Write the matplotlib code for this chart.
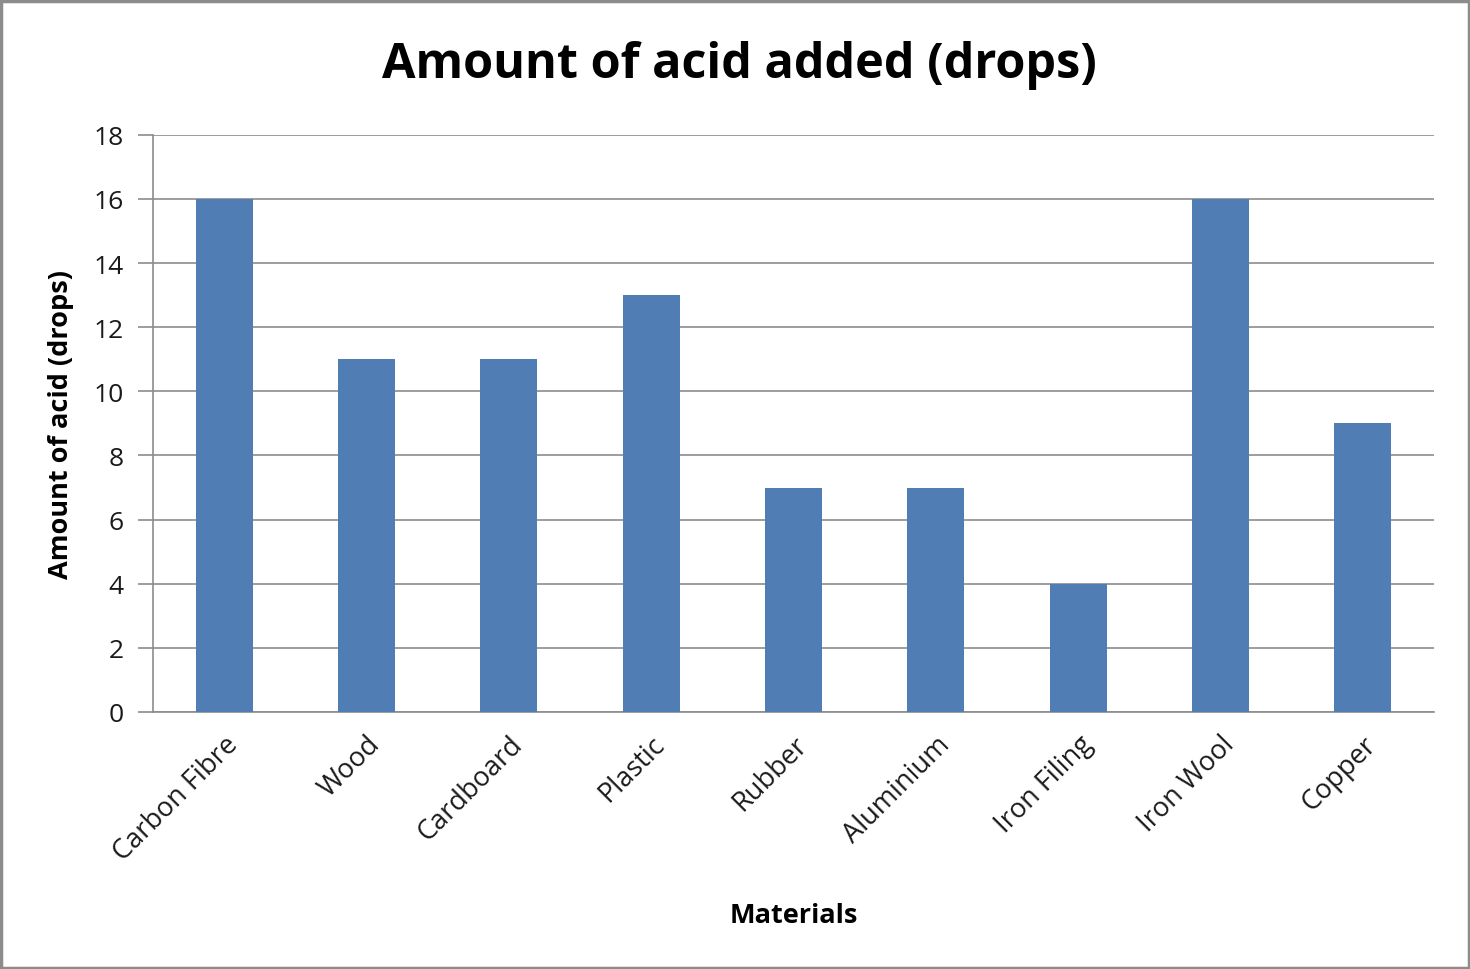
import matplotlib.pyplot as plt
from matplotlib.patches import Rectangle

materials = ['Carbon Fibre', 'Wood', 'Cardboard', 'Plastic', 'Rubber',
             'Aluminium', 'Iron Filing', 'Iron Wool', 'Copper']
drops = [16, 11, 11, 13, 7, 7, 4, 16, 9]
y_ticks = [0, 2, 4, 6, 8, 10, 12, 14, 16, 18]

plt.rcParams['font.family'] = ['Open Sans', 'DejaVu Sans']

fig = plt.figure(figsize=(14.7, 9.7), dpi=100)
ax = fig.add_axes([0.104, 0.265, 0.8715, 0.595])

x = range(len(materials))
ax.bar(x, drops, width=0.4, color='#4f7db4', zorder=3)

ax.set_xlim(-0.5, len(materials) - 0.5)
ax.set_ylim(0, 18)
ax.set_yticks(y_ticks)
ax.set_yticklabels([str(v) for v in y_ticks], fontsize=19, color='#1a1a1a')
ax.set_xticks(list(x))
ax.set_xticklabels(materials, rotation=45, ha='right', rotation_mode='anchor',
                   fontsize=19.5, color='#1a1a1a')
ax.tick_params(axis='x', length=0, pad=13)
ax.tick_params(axis='y', length=11, width=1.2, color='#8c8c8c', pad=10)

ax.grid(axis='y', color='#8c8c8c', linewidth=1.2, zorder=0)
for side in ['top', 'right']:
    ax.spines[side].set_visible(False)
ax.spines['left'].set_color('#8c8c8c')
ax.spines['bottom'].set_color('#8c8c8c')
ax.spines['left'].set_linewidth(1.2)
ax.spines['bottom'].set_linewidth(1.2)

ax.set_ylabel('Amount of acid (drops)', fontsize=19.5, fontweight='bold', labelpad=14)
ax.set_xlabel('Materials', fontsize=19.5, fontweight='bold', labelpad=26)
fig.text(0.503, 0.932, 'Amount of acid added (drops)', ha='center', va='center',
         fontsize=35, fontweight='bold')

# outer frame
fig.patches.append(Rectangle((0.001, 0.001), 0.998, 0.997, transform=fig.transFigure,
                             fill=False, edgecolor='#8c8c8c', linewidth=2.5))

fig.savefig('out.png', dpi=100)
